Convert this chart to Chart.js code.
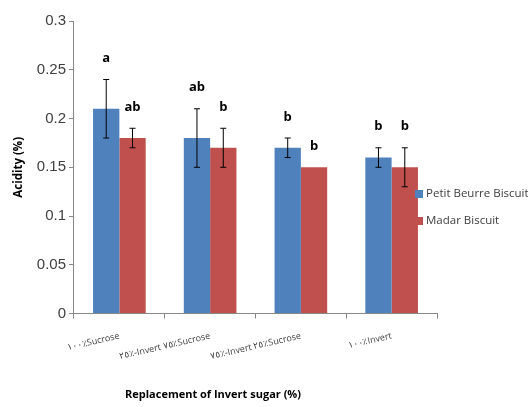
<!DOCTYPE html>
<html>
<head>
<meta charset="utf-8">
<script src="https://cdn.jsdelivr.net/npm/chart.js@4/dist/chart.umd.min.js"></script>
<style>
  html, body { margin: 0; padding: 0; background: #fff; }
  #wrap { width: 528px; height: 407px; }
</style>
</head>
<body>
<div id="wrap"><canvas id="chartAcidity"></canvas></div>
<script>
// data
const categories = ['١٠٠٪Sucrose', '٢٥٪-Invert ٧٥٪Sucrose', '٧٥٪-Invert ٢٥٪Sucrose', '١٠٠٪Invert'];
const petitBeurre = [0.21, 0.18, 0.17, 0.16];
const petitBeurreErr = [0.03, 0.03, 0.01, 0.01];
const petitBeurreLetters = ['a', 'ab', 'b', 'b'];
const madar = [0.18, 0.17, 0.15, 0.15];
const madarErr = [0.01, 0.02, 0, 0.02];
const madarLetters = ['ab', 'b', 'b', 'b'];
const yTicks = [0, 0.05, 0.1, 0.15, 0.2, 0.25, 0.3];
const xTitle = 'Replacement of Invert sugar (%)';

const errs = [petitBeurreErr, madarErr];
const letters = [petitBeurreLetters, madarLetters];

// error bars + significance letters
const errorBarPlugin = {
  id: 'errorBars',
  afterDatasetsDraw(chart) {
    const ctx = chart.ctx;
    const y = chart.scales.y;
    chart.data.datasets.forEach((ds, di) => {
      const meta = chart.getDatasetMeta(di);
      meta.data.forEach((bar, i) => {
        const v = ds.data[i], e = errs[di][i];
        const top = y.getPixelForValue(v + e);
        ctx.save();
        if (e > 0) {
          const bot = y.getPixelForValue(v - e);
          ctx.strokeStyle = '#000';
          ctx.lineWidth = 1;
          ctx.beginPath();
          ctx.moveTo(bar.x, top); ctx.lineTo(bar.x, bot);
          ctx.moveTo(bar.x - 3, top); ctx.lineTo(bar.x + 3, top);
          ctx.moveTo(bar.x - 3, bot); ctx.lineTo(bar.x + 3, bot);
          ctx.stroke();
        }
        ctx.fillStyle = '#000';
        ctx.font = 'bold 13px "Open Sans", sans-serif';
        ctx.textAlign = 'center';
        ctx.textBaseline = 'middle';
        ctx.fillText(letters[di][i], bar.x, top - 21);
        ctx.restore();
      });
    });
  }
};

// legend overlaps the plot's right end and the x title sits left of centre, as in the original
const sideLegend = {
  id: 'sideLegend',
  afterDraw(chart) {
    const ctx = chart.ctx;
    ctx.save();
    ctx.font = '11.5px "Open Sans", sans-serif';
    ctx.textBaseline = 'middle';
    chart.data.datasets.forEach((ds, i) => {
      const cy = 194 + i * 27;
      ctx.fillStyle = ds.backgroundColor;
      ctx.fillRect(415, cy - 4, 8, 8);
      ctx.fillStyle = '#404040';
      ctx.fillText(ds.label, 426, cy);
    });
    ctx.font = 'bold 11px "Open Sans", sans-serif';
    ctx.fillStyle = '#000';
    ctx.textAlign = 'center';
    ctx.fillText(xTitle, 213, 395);
    ctx.restore();
  }
};

new Chart(document.getElementById('chartAcidity').getContext('2d'), {
  type: 'bar',
  data: {
    labels: categories,
    datasets: [
      { label: 'Petit Beurre Biscuit', data: petitBeurre, backgroundColor: '#4F81BD', categoryPercentage: 0.58, barPercentage: 1 },
      { label: 'Madar Biscuit', data: madar, backgroundColor: '#C0504D', categoryPercentage: 0.58, barPercentage: 1 }
    ]
  },
  options: {
    responsive: true, maintainAspectRatio: false, animation: false,
    layout: { padding: { top: 21, right: 91, left: 8, bottom: 0 } },
    plugins: {
      legend: { display: false },
      tooltip: { enabled: false }
    },
    scales: {
      x: {
        grid: { display: true, drawOnChartArea: false, tickLength: 5, color: '#888' },
        border: { color: '#888' },
        ticks: { minRotation: 13, maxRotation: 13, padding: 12, font: { family: '"Open Sans", sans-serif', size: 9 }, color: '#404040' },
        // space kept for the title, which the plugin draws
        title: { display: true, text: xTitle, font: { family: '"Open Sans", sans-serif', size: 10, weight: 'bold' }, color: 'rgba(0,0,0,0)', padding: { top: 17 } }
      },
      y: {
        min: 0, max: 0.3,
        afterBuildTicks: axis => { axis.ticks = yTicks.map(v => ({ value: v })); },
        grid: { display: true, drawOnChartArea: false, tickLength: 5, color: '#888' },
        border: { color: '#888' },
        ticks: { font: { family: '"Liberation Sans", Arial, sans-serif', size: 15 }, color: '#404040', callback: v => String(parseFloat(v.toFixed(2))) },
        title: { display: true, text: 'Acidity (%)', font: { family: '"Open Sans", sans-serif', size: 11.5, weight: 'bold' }, color: '#000', padding: { bottom: 8 } }
      }
    }
  },
  plugins: [errorBarPlugin, sideLegend]
});
</script>
</body>
</html>
